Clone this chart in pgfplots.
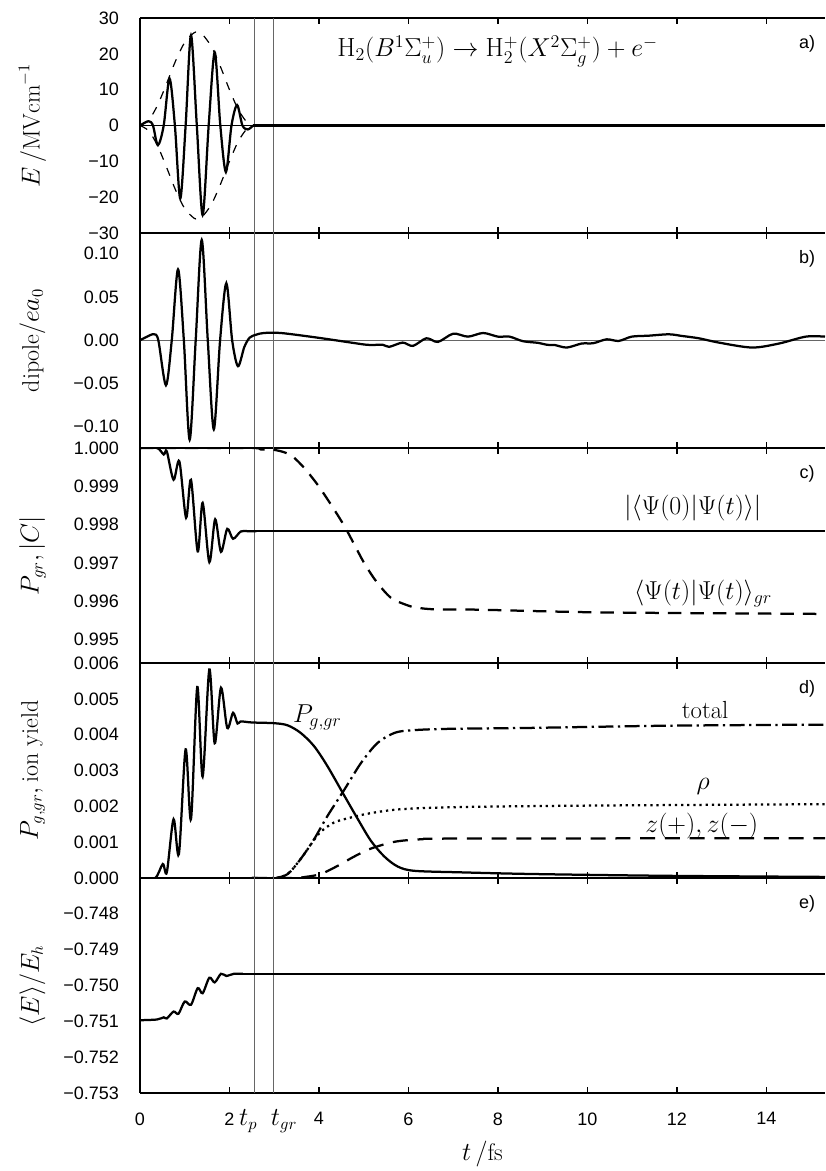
\documentclass[border=0pt]{standalone}
\usepackage{fontspec}
\newfontfamily\tickfontfam{Liberation Sans}
\newcommand{\tickfont}{\tickfontfam\fontsize{12}{14}\selectfont}
\usepackage{pgfplots}
\pgfplotsset{compat=1.18}
\newcommand{\labfont}{\fontsize{16}{19}\selectfont}
\newcommand{\annfont}{\fontsize{16.5}{19}\selectfont}
\newcommand{\titfont}{\fontsize{17.5}{20}\selectfont}
\pgfplotsset{
  panel/.style={
    scale only axis, width=456.67pt, height=143.33pt,
    xmin=0, xmax=15.31, clip mode=individual,
    axis x line*=box, axis y line*=left,
    x axis line style={-}, y axis line style={-},
    axis line style={line width=1.1pt},
    xtick={0,2,4,6,8,10,12,14}, xticklabels={},
    tick align=inside, major tick length=4pt,
    x tick style={line width=1pt, black},
    y tick style={draw=none},
    scaled y ticks=false,
    yticklabel style={font=\tickfont, xshift=-10.5pt},
    xticklabel style={font=\tickfont, yshift=-9.5pt},
    ylabel style={at={(axis description cs:-0.157,0.5)}, anchor=center, font=\labfont},
    every axis plot/.append style={line width=1.5pt, black},
  },
  vline/.style={line width=0.7pt, gray!80!black},
}
\begin{document}
\begin{tikzpicture}
% ---------------- panel a
\begin{axis}[panel, name=pa, at={(0pt,0pt)}, anchor=north west,
  ymin=-30, ymax=30, ytick={-30,-20,-10,0,10,20,30},
  yticklabels={−30,−20,−10,0,10,20,30},
  ylabel={$E\,/\mathrm{MVcm}^{-1}$}]
\addplot[black, line width=0.6pt] coordinates {(0,0) (15.31,0)};
\addplot[vline] coordinates {(2.554,-30) (2.554,30)};
\addplot[vline] coordinates {(2.98,-30) (2.98,30)};
\addplot[black, line width=0.8pt, dash pattern=on 5.5pt off 6pt, smooth] coordinates {
(0,0) (0.2,1.56) (0.4,5.86) (0.6,11.87) (0.8,18.15) (1.0,23.2) (1.2,25.8) (1.27,26) (1.4,25.33) (1.6,21.91) (1.8,16.36) (2.0,9.98) (2.2,4.35) (2.4,0.77) (2.54,0)};
\addplot[black, line width=0.8pt, dash pattern=on 5.5pt off 6pt, smooth] coordinates {
(0,0) (0.2,-1.56) (0.4,-5.86) (0.6,-11.87) (0.8,-18.15) (1.0,-23.2) (1.2,-25.8) (1.27,-26) (1.4,-25.33) (1.6,-21.91) (1.8,-16.36) (2.0,-9.98) (2.2,-4.35) (2.4,-0.77) (2.54,0)};
\addplot[black, smooth] coordinates {
(0,0) (0.19,1.2) (0.29,0) (0.40,-5.5) (0.53,0) (0.66,13.1) (0.78,0) (0.90,-20.4) (1.02,0) (1.14,25.2) (1.27,0) (1.40,-25) (1.535,0) (1.67,20.4) (1.795,0) (1.92,-13) (2.045,0) (2.17,5.7) (2.29,0) (2.41,-1.1) (2.53,0)};
\addplot[black] coordinates {(2.53,0) (15.31,0)};
\node[font=\titfont, anchor=base] at (rel axis cs:0.522,0.82) {$\mathrm{H}_2(B^1\Sigma_u^+)\rightarrow\mathrm{H}_2^+(X^2\Sigma_g^+)+e^{-}$};
\node[font=\tickfont] at (rel axis cs:0.974,0.882) {a)};
\end{axis}
% ---------------- panel b
\begin{axis}[panel, name=pb, at={(pa.south west)}, anchor=north west,
  ymin=-0.1245, ymax=0.124, ytick={-0.1,-0.05,0,0.05,0.1},
  yticklabels={−0.10,−0.05,0.00,0.05,0.10},
  ylabel={$\mathrm{dipole}/ea_0$}]
\addplot[line width=0.6pt, gray!80!black] coordinates {(0,0) (15.31,0)};
\addplot[vline] coordinates {(2.554,-0.2) (2.554,0.2)};
\addplot[vline] coordinates {(2.98,-0.2) (2.98,0.2)};
\addplot[black, smooth] coordinates {
(0,0) (0.15,0.004) (0.31,0.007) (0.41,0) (0.58,-0.052) (0.71,0) (0.85,0.082) (0.98,0) (1.11,-0.115) (1.245,0) (1.38,0.116) (1.515,0) (1.65,-0.103) (1.79,0) (1.93,0.066) (2.06,0) (2.19,-0.030) (2.33,-0.008) (2.45,0.003) (2.6,0.0065) (2.77,0.0084) (3.15,0.0084) (3.97,0.003) (4.72,-0.0027) (5.09,-0.0053) (5.43,-0.0053) (5.57,-0.0076) (5.87,-0.0027) (6.10,-0.0065) (6.40,0.0023) (6.66,-0.0019) (7.0,0.0076) (7.33,0.0042) (7.67,0.0084) (8.0,0.0042) (8.26,0.0042) (8.56,-0.0011) (8.9,-0.0030) (9.1,-0.0053) (9.27,-0.0055) (9.54,-0.0084) (9.87,-0.0038) (10.13,-0.0034) (10.43,0.0011) (10.7,-0.0008) (10.99,0.0042) (11.37,0.0053) (11.82,0.0069) (12.11,0.005) (12.49,0.0023) (12.94,-0.0027) (13.68,-0.0084) (14.28,-0.0038) (14.88,0.0042) (15.31,0.0042)};
\node[font=\tickfont] at (rel axis cs:0.974,0.882) {b)};
\end{axis}
% ---------------- panel c
\begin{axis}[panel, name=pc, at={(pb.south west)}, anchor=north west,
  ymin=0.99439, ymax=1.0, ytick={0.995,0.996,0.997,0.998,0.999,1.0},
  yticklabels={0.995,0.996,0.997,0.998,0.999,1.000},
  ylabel={$P_{gr},|C|$}]
\addplot[vline] coordinates {(2.554,0.99) (2.554,1.001)};
\addplot[vline] coordinates {(2.98,0.99) (2.98,1.001)};
\addplot[black, dash pattern=on 9pt off 6pt, smooth] coordinates {
(0,1.0) (2.47,1.0) (2.7,0.99996) (2.95,0.99996) (3.22,0.99989) (3.41,0.99978) (3.67,0.99948) (3.97,0.99904) (4.27,0.99852) (4.57,0.99796) (4.79,0.99748) (5.01,0.99700) (5.28,0.99652) (5.61,0.99609) (5.99,0.99589) (6.21,0.99583) (6.6,0.99579) (7.6,0.99578) (10.3,0.99571) (15.31,0.99567)};
\addplot[black, smooth] coordinates {
(0,1.0) (0.38,1.0) (0.53,0.99983) (0.60,0.99991) (0.75,0.99917) (0.88,0.99965) (1.03,0.99818) (1.14,0.99917) (1.29,0.99730) (1.40,0.99857) (1.55,0.99702) (1.68,0.99814) (1.81,0.99729) (1.95,0.99789) (2.08,0.99763) (2.25,0.99782) (2.4,0.99783) (2.6,0.99783)};
\addplot[black] coordinates {(2.6,0.99783) (15.31,0.99783)};
\node[font=\annfont, anchor=base] at (rel axis cs:0.807,0.69) {$|\langle\Psi(0)|\Psi(t)\rangle|$};
\node[font=\annfont, anchor=base] at (rel axis cs:0.822,0.294) {$\langle\Psi(t)|\Psi(t)\rangle_{gr}$};
\node[font=\tickfont] at (rel axis cs:0.974,0.882) {c)};
\end{axis}
% ---------------- panel d
\begin{axis}[panel, name=pd, at={(pc.south west)}, anchor=north west,
  ymin=0, ymax=0.006, ytick={0,0.001,0.002,0.003,0.004,0.005,0.006},
  yticklabels={0.000,0.001,0.002,0.003,0.004,0.005,0.006},
  ylabel={$P_{g,gr},\mathrm{ion\ yield}$}]
\addplot[vline] coordinates {(2.554,-0.001) (2.554,0.007)};
\addplot[vline] coordinates {(2.98,-0.001) (2.98,0.007)};
\addplot[black, smooth] coordinates {
(0,0) (0.34,0) (0.51,0.00039) (0.60,0.00016) (0.75,0.00164) (0.87,0.00067) (1.02,0.00359) (1.14,0.00164) (1.28,0.00533) (1.40,0.00283) (1.55,0.00582) (1.67,0.00376) (1.81,0.00531) (1.95,0.00419) (2.08,0.00461) (2.18,0.00431) (2.25,0.00437) (2.5,0.00434) (3.0,0.00432) (3.30,0.00426) (3.59,0.00405) (3.89,0.00368) (4.19,0.00312) (4.57,0.00229) (4.87,0.00164) (5.16,0.00104) (5.46,0.00060) (5.76,0.00032) (6.13,0.00020) (7.18,0.000157) (8.8,0.00011) (11.8,0.00006) (15.31,0.00003)};
\addplot[black, dash pattern=on 10pt off 3pt on 1.5pt off 3pt, smooth] coordinates {
(2.5,0) (3.0,0) (3.30,0.00011) (3.59,0.00053) (3.89,0.00108) (4.19,0.00173) (4.57,0.00247) (4.94,0.00321) (5.31,0.00377) (5.69,0.00405) (6.06,0.00412) (6.81,0.00416) (8.8,0.00419) (11.8,0.00425) (15.31,0.00428)};
\addplot[black, dash pattern=on 1.5pt off 2.6pt, smooth] coordinates {
(2.5,0) (3.0,0) (3.30,0.00011) (3.59,0.00053) (3.89,0.00106) (4.04,0.00129) (4.34,0.00155) (4.72,0.00169) (5.16,0.00181) (5.84,0.00192) (7.18,0.00198) (10,0.00202) (15.31,0.00206)};
\addplot[black, dash pattern=on 10pt off 6.5pt, smooth] coordinates {
(2.5,0) (3.44,0) (3.7,0.00003) (4.04,0.00011) (4.42,0.00034) (4.79,0.00060) (5.16,0.00082) (5.69,0.00101) (6.28,0.00108) (7.18,0.00110) (15.31,0.00111)};
\node[font=\annfont, anchor=base] at (rel axis cs:0.259,0.722) {$P_{g,gr}$};
\node[font=\annfont, anchor=base] at (rel axis cs:0.825,0.741) {total};
\node[font=\annfont, anchor=base] at (rel axis cs:0.822,0.413) {$\rho$};
\node[font=\annfont, anchor=base] at (rel axis cs:0.82,0.213) {$z(+),z(-)$};
\node[font=\tickfont] at (rel axis cs:0.974,0.882) {d)};
\end{axis}
% ---------------- panel e
\begin{axis}[panel, name=pe, at={(pd.south west)}, anchor=north west,
  ymin=-0.753, ymax=-0.74703, ytick={-0.753,-0.752,-0.751,-0.75,-0.749,-0.748},
  yticklabels={−0.753,−0.752,−0.751,−0.750,−0.749,−0.748},
  xticklabels={0,2,4,6,8,10,12,14},
  xlabel={$t\,/\mathrm{fs}$},
  xlabel style={at={(axis description cs:0.5,-0.284)}, anchor=center, font=\labfont},
  ylabel={$\langle E\rangle/E_h$}]
\addplot[vline] coordinates {(2.554,-0.754) (2.554,-0.746)};
\addplot[vline] coordinates {(2.98,-0.754) (2.98,-0.746)};
\addplot[black, smooth] coordinates {
(0,-0.75098) (0.38,-0.75096) (0.53,-0.75090) (0.6,-0.75093) (0.75,-0.75074) (0.86,-0.75080) (1.0,-0.75046) (1.14,-0.75055) (1.29,-0.75009) (1.40,-0.75023) (1.55,-0.74980) (1.67,-0.74993) (1.81,-0.74969) (1.93,-0.74975) (2.1,-0.74969) (2.3,-0.74969)};
\addplot[black] coordinates {(2.3,-0.74969) (15.31,-0.74969)};
\node[font=\labfont, anchor=base, yshift=-22pt] at (axis cs:2.42,-0.753) {$t_p$};
\node[font=\labfont, anchor=base, yshift=-22pt] at (axis cs:3.22,-0.753) {$t_{gr}$};
\node[font=\tickfont] at (rel axis cs:0.974,0.882) {e)};
\end{axis}
\pgfresetboundingbox
\path[use as bounding box] (-93.33pt,12pt) rectangle (456.67pt,-768.67pt);
\end{tikzpicture}
\end{document}
